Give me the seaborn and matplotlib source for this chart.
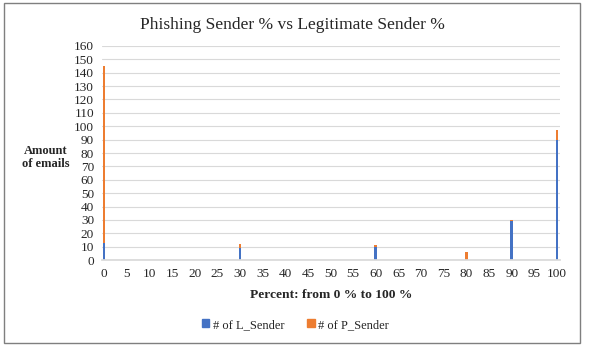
import matplotlib
matplotlib.use("Agg")
import matplotlib.pyplot as plt
import seaborn as sns
import pandas as pd
from matplotlib.patches import Rectangle, Patch

# percent values that have emails
percent = [0, 30, 60, 80, 90, 100]
l_sender = [13, 9, 10, 0, 29, 90]
p_sender = [132, 3, 1, 6, 1, 7]

blue = "#4472C4"
orange = "#ED7D31"

sns.set_theme(style="white")
plt.rcParams["font.family"] = ["Liberation Serif", "DejaVu Serif"]

df = pd.DataFrame({"percent": percent, "L": l_sender, "P": p_sender})
df["total"] = df["L"] + df["P"]

fig = plt.figure(figsize=(5.91, 3.53), dpi=100)
ax = fig.add_axes([0.1733, 0.263, 0.7746, 0.607])

# stacked: total (orange) behind, L (blue) on top
sns.barplot(data=df, x="percent", y="total", native_scale=True, color=orange,
            width=0.06, saturation=1, linewidth=0, antialiased=False, ax=ax)
sns.barplot(data=df, x="percent", y="L", native_scale=True, color=blue,
            width=0.06, saturation=1, linewidth=0, antialiased=False, ax=ax)

ax.set_xlim(-0.35, 100.7)
ax.set_ylim(0, 160)
ax.set_yticks(range(0, 161, 10))
ax.set_xticks(range(0, 101, 5))
ax.tick_params(axis="both", labelsize=9.5, length=0, pad=6)
ax.yaxis.grid(True, color="#D9D9D9", linewidth=0.8)
ax.set_axisbelow(True)
for s in ["top", "right", "left"]:
    ax.spines[s].set_visible(False)
ax.spines["bottom"].set_color("#D9D9D9")
ax.set_ylabel("")
ax.set_xlabel("Percent: from 0 % to 100 %", fontsize=9.7, fontweight="bold", labelpad=6)

fig.text(0.495, 0.93, "Phishing Sender % vs Legitimate Sender %", fontsize=12.5,
         ha="center", va="center")
fig.text(0.077, 0.553, "Amount\nof emails", fontsize=9, fontweight="bold",
         ha="center", va="center", linespacing=1.1)

handles = [Patch(color=blue, label="# of L_Sender"),
           Patch(color=orange, label="# of P_Sender")]
fig.legend(handles=handles, loc="center", bbox_to_anchor=(0.5, 0.08), ncol=2,
           frameon=False, fontsize=9, handlelength=0.6, handleheight=0.6,
           handletextpad=0.3, columnspacing=1.8)

fig.patches.append(Rectangle((4 / 591, 10 / 353), 576 / 591, 340 / 353,
                             transform=fig.transFigure, fill=False,
                             edgecolor="#7F7F7F", linewidth=1))

fig.savefig("out.png", dpi=100)
